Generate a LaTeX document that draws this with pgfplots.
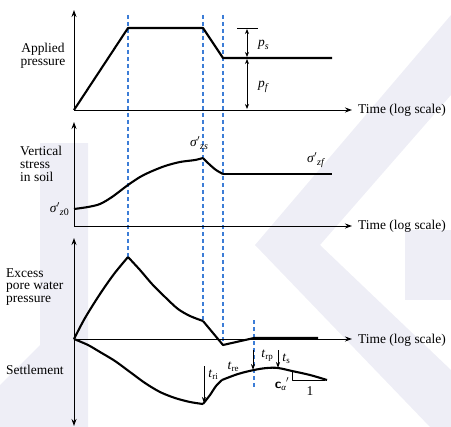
\documentclass[border=0pt]{standalone}
\usepackage{pgfplots}
\pgfplotsset{compat=1.18}
\usepackage{fontspec}
\setmainfont{Liberation Serif}
\usetikzlibrary{arrows.meta}
\definecolor{dashblue}{RGB}{60,125,215}
\definecolor{wm}{RGB}{238,238,246}
\newcommand{\sub}[1]{\raisebox{-3pt}{\fontsize{10}{11}\selectfont #1}}
\newcommand{\tsub}[1]{\raisebox{-2pt}{\fontsize{9}{10}\selectfont #1}}
\begin{document}
\fontsize{13.5}{15}\selectfont
\begin{tikzpicture}[x=1bp,y=1bp]
\begin{axis}[
  at={(0,0)}, anchor=south west,
  width=451bp, height=427bp, scale only axis,
  xmin=0, xmax=451, ymin=0, ymax=427, y dir=reverse,
  hide axis, clip=false,
  every axis plot/.append style={line join=round},
]
% faint watermark shapes
\addplot[draw=none, fill=wm] coordinates {(40,143) (88,143) (88,427) (0,427) (0,385) (40,345)};
\addplot[draw=none, fill=wm] coordinates {(451,15) (451,95) (320,245) (255,245)};
\addplot[draw=none, fill=wm] coordinates {(255,245) (320,245) (451,370) (451,427) (430,427)};
\addplot[draw=none, fill=wm] coordinates {(405,230) (451,230) (451,300) (405,300)};
% dashed verticals
\addplot[dashblue, line width=1.1pt, dash pattern=on 4bp off 3bp] coordinates {(128,15) (128,257)};
\addplot[dashblue, line width=1.1pt, dash pattern=on 4bp off 3bp] coordinates {(203,15) (203,322)};
\addplot[dashblue, line width=1.1pt, dash pattern=on 4bp off 3bp] coordinates {(223,15) (223,345)};
\addplot[dashblue, line width=1.1pt, dash pattern=on 4bp off 3bp] coordinates {(254,320) (254,388)};
% axes panel 1
\addplot[black, line width=0.9pt, -{Stealth[length=7bp,width=5bp]}] coordinates {(74,110) (74,10)};
\addplot[black, line width=0.9pt, -{Stealth[length=7bp,width=5bp]}] coordinates {(74,110) (352,110)};
% axes panel 2
\addplot[black, line width=0.9pt, -{Stealth[length=7bp,width=5bp]}] coordinates {(74,226) (74,122)};
\addplot[black, line width=0.9pt, -{Stealth[length=7bp,width=5bp]}] coordinates {(74,226) (352,226)};
% axes panel 3
\addplot[black, line width=0.9pt, -{Stealth[length=7bp,width=5bp]}] coordinates {(74,339) (74,238)};
\addplot[black, line width=0.9pt, -{Stealth[length=7bp,width=5bp]}] coordinates {(74,339) (74,426)};
\addplot[black, line width=0.9pt, -{Stealth[length=7bp,width=5bp]}] coordinates {(74,339) (352,339)};
% applied pressure
\addplot[black, line width=2.1pt] coordinates {(74,110) (128,28) (203,28) (223,58) (332,58)};
% p_s / p_f dimension
\addplot[black, line width=0.8pt] coordinates {(237,28) (258,28)};
\addplot[black, line width=0.8pt, {Stealth[length=5bp,width=4bp]}-{Stealth[length=5bp,width=4bp]}] coordinates {(247,29) (247,57)};
\addplot[black, line width=0.8pt, {Stealth[length=5bp,width=4bp]}-{Stealth[length=5bp,width=4bp]}] coordinates {(247,59) (247,109)};
% vertical stress
\addplot[black, line width=2.1pt, smooth, tension=0.5] coordinates {(74,209) (88,207) (100,204) (112,197) (128,185) (140,177) (150,172) (165,166) (180,162) (195,160) (203,158)};
\addplot[black, line width=2.1pt, smooth, tension=0.5] coordinates {(203,158) (209,164) (216,170) (223,174)};
\addplot[black, line width=2.1pt] coordinates {(223,174) (332,174)};
% pore water pressure
\addplot[black, line width=2.1pt, smooth, tension=0.5] coordinates {(74,339) (85,318) (100,294) (114,274) (128,257)};
\addplot[black, line width=2.1pt, smooth, tension=0.5] coordinates {(128,257) (140,270) (152,284) (165,297) (178,309) (190,316) (203,321)};
\addplot[black, line width=2.1pt] coordinates {(203,321) (223,345) (254,338) (318,338)};
% settlement
\addplot[black, line width=2.1pt, smooth, tension=0.5] coordinates {(74,339) (88,345) (100,352) (115,361) (130,372) (145,383) (160,392) (175,398) (190,402) (203,404)};
\addplot[black, line width=2.1pt, smooth, tension=0.5] coordinates {(203,404) (210,395) (216,386) (222,380)};
\addplot[black, line width=2.1pt, smooth, tension=0.6] coordinates {(222,380) (238,374) (254,370) (267,368) (278,368) (292,371) (310,375) (327,380)};
% slope triangle
\addplot[black, line width=0.8pt] coordinates {(292,371) (292,380) (325,380)};
% arrows for times
\addplot[black, line width=0.8pt, -{Stealth[length=6bp,width=4bp]}] coordinates {(204,366) (204,403)};
\addplot[black, line width=0.8pt, -{Stealth[length=6bp,width=4bp]}] coordinates {(253,350) (253,370)};
\addplot[black, line width=0.8pt, -{Stealth[length=6bp,width=4bp]}] coordinates {(278,350) (278,368)};
% labels
\node[align=center, inner sep=0pt] at (axis cs:43,56) {Applied\\[-2pt]pressure};
\node[anchor=west, inner sep=0pt] at (axis cs:358,110) {Time (log scale)};
\node[anchor=west, inner sep=0pt] at (axis cs:358,226) {Time (log scale)};
\node[anchor=west, inner sep=0pt] at (axis cs:358,340) {Time (log scale)};
\node[anchor=west, inner sep=0pt] at (axis cs:258,45) {\textit{p}\sub{\textit{s}}};
\node[anchor=west, inner sep=0pt] at (axis cs:258,87) {\textit{p}\sub{\textit{f}}};
\node[align=left, anchor=west, inner sep=0pt] at (axis cs:20,164) {Vertical\\[-2pt]stress\\[-2pt]in soil};
\node[anchor=east, inner sep=0pt] at (axis cs:69,209) {\textit{σ}$'$\sub{\textit{z}0}};
\node[inner sep=0pt] at (axis cs:199,143) {\textit{σ}$'$\sub{\textit{zs}}};
\node[inner sep=0pt] at (axis cs:316,160) {\textit{σ}$'$\sub{\textit{zf}}};
\node[align=left, anchor=west, inner sep=0pt] at (axis cs:6,287) {Excess\\[-2pt]pore water\\[-2pt]pressure};
\node[anchor=west, inner sep=0pt] at (axis cs:6,370) {Settlement};
\node[inner sep=0pt] at (axis cs:213,375) {\textit{t}\tsub{ri}};
\node[inner sep=0pt] at (axis cs:233,367) {\textit{t}\tsub{re}};
\node[inner sep=0pt] at (axis cs:267,356) {\textit{t}\tsub{rp}};
\node[inner sep=0pt] at (axis cs:286,359) {\textit{t}\tsub{s}};
\node[inner sep=0pt] at (axis cs:282,384) {\textbf{\textsf{c}}\tsub{\textit{α}}$'$};
\node[inner sep=0pt] at (axis cs:310,391) {1};
\end{axis}
\pgfresetboundingbox
\useasboundingbox (0,0) rectangle (451bp,427bp);
\end{tikzpicture}
\end{document}
